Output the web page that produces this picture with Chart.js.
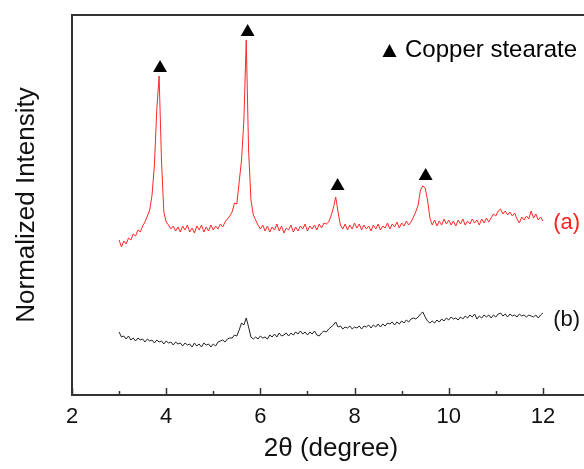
<!DOCTYPE html>
<html>
<head>
<meta charset="utf-8">
<script src="https://cdn.jsdelivr.net/npm/chart.js@4.4.1/dist/chart.umd.min.js"></script>
<style>
  html, body { margin: 0; padding: 0; background: #fff; overflow: hidden; }
  #wrap { width: 600px; height: 469px; }
</style>
</head>
<body>
<div id="wrap"><canvas id="xrd" width="600" height="469"></canvas></div>
<script>
// 2theta sampling grid of the scan (degrees)
const angleStart = 3.0;
const angleStep = 0.05;

// curve (a): red, with copper stearate peaks
const seriesA = [
  155,148,154,151,157,155,161,159,165,163,
  169,173,179,185,200,230,285,319,235,183,
  173,170,166,169,164,168,163,169,165,170,
  163,167,162,169,165,170,163,168,164,170,
  165,169,166,171,168,173,176,179,183,192,
  191,213,235,275,355,245,195,180,175,170,
  166,170,164,169,163,168,165,171,164,169,
  162,167,165,170,163,168,164,169,166,171,
  164,169,166,170,165,171,167,172,171,173,
  179,187,198,183,170,166,171,165,170,166,
  172,167,171,165,170,166,169,164,170,166,
  171,165,169,167,172,166,171,168,173,167,
  172,169,174,170,173,178,183,190,205,209,
  207,195,177,170,175,169,174,170,176,171,
  175,170,174,169,175,171,176,170,174,171,
  176,172,175,170,176,172,177,173,177,181,
  179,184,186,181,184,180,183,179,182,176,
  172,178,175,179,176,184,177,181,175,178,
  174
];

// curve (b): black
const seriesB = [
  63,58,59,56,59,55,57,54,57,55,
  56,53,56,54,55,52,55,53,54,51,
  54,52,53,50,53,51,52,49,52,50,
  51,48,52,49,51,48,52,50,51,48,
  51,49,53,54,55,53,56,57,57,60,
  59,65,72,70,77,68,58,56,58,56,
  59,57,58,56,60,58,61,58,62,59,
  60,62,59,62,60,63,61,64,61,63,
  60,63,61,64,60,59,62,64,63,66,
  68,70,73,68,69,66,68,67,69,66,
  68,67,69,66,69,68,70,67,70,68,
  71,68,71,69,72,71,73,70,73,71,
  74,72,75,73,76,77,76,78,81,83,
  78,74,72,74,72,75,73,76,74,77,
  75,78,76,77,75,78,76,79,77,80,
  78,81,76,79,77,80,78,80,77,80,
  78,81,82,79,81,78,81,79,80,78,
  81,79,80,78,80,79,78,80,77,80,
  82
];

// peak markers (triangles) above curve (a)
const peakAngles = [3.87, 5.73, 7.64, 9.51];
const peakMarks = [327, 363, 209, 219];

const xTicks = [2, 4, 6, 8, 10, 12];

function toPoints(vals) {
  return vals.map((v, i) => ({ x: +(angleStart + i * angleStep).toFixed(2), y: v }));
}

const FONT = "'Liberation Sans', Arial, sans-serif";

const decorations = {
  id: 'decorations',
  afterDraw(chart) {
    const ctx = chart.ctx;
    const area = chart.chartArea;
    const xs = chart.scales.x;
    const ys = chart.scales.y;
    ctx.save();
    // frame
    ctx.strokeStyle = '#333';
    ctx.lineWidth = 2;
    ctx.strokeRect(area.left, area.top, area.right - area.left, area.bottom - area.top);
    // inward ticks
    ctx.lineWidth = 1.5;
    xs.ticks.forEach(t => {
      const px = Math.round(xs.getPixelForValue(t.value)) + 0.5;
      const len = t.value % 2 === 0 ? 7 : 4;
      ctx.beginPath();
      ctx.moveTo(px, area.bottom);
      ctx.lineTo(px, area.bottom - len);
      ctx.stroke();
    });
    // curve labels
    ctx.font = '22px ' + FONT;
    ctx.textBaseline = 'middle';
    ctx.textAlign = 'left';
    ctx.fillStyle = '#ff2020';
    ctx.fillText('(a)', xs.getPixelForValue(12.22), ys.getPixelForValue(172));
    ctx.fillStyle = '#111';
    ctx.fillText('(b)', xs.getPixelForValue(12.22), ys.getPixelForValue(75));
    // legend
    ctx.fillStyle = '#000';
    ctx.beginPath();
    ctx.moveTo(389.5, 44);
    ctx.lineTo(396.5, 57);
    ctx.lineTo(382.5, 57);
    ctx.closePath();
    ctx.fill();
    ctx.font = '24px ' + FONT;
    ctx.textBaseline = 'alphabetic';
    ctx.fillText('Copper stearate', 405, 57);
    ctx.restore();
  }
};

new Chart(document.getElementById('xrd'), {
  type: 'line',
  data: {
    datasets: [
      {
        label: '(a)',
        data: toPoints(seriesA),
        borderColor: 'rgb(255,40,40)',
        borderWidth: 1,
        pointRadius: 0,
        tension: 0
      },
      {
        label: '(b)',
        data: toPoints(seriesB),
        borderColor: '#222',
        borderWidth: 1,
        pointRadius: 0,
        tension: 0
      },
      {
        label: 'Copper stearate',
        data: peakAngles.map((a, i) => ({ x: a, y: peakMarks[i] })),
        showLine: false,
        pointStyle: 'triangle',
        pointRadius: 8,
        pointBackgroundColor: '#000',
        pointBorderColor: '#000',
        pointBorderWidth: 0
      }
    ]
  },
  options: {
    responsive: false,
    devicePixelRatio: 1,
    animation: false,
    layout: { padding: { top: 15, right: 10, left: 0, bottom: 0 } },
    plugins: { legend: { display: false }, tooltip: { enabled: false } },
    scales: {
      x: {
        type: 'linear',
        min: 2,
        max: 13,
        grid: { display: false },
        border: { display: false },
        ticks: {
          stepSize: 1,
          autoSkip: false,
          maxRotation: 0,
          padding: 1,
          color: '#111',
          font: { family: FONT, size: 22 },
          callback: v => xTicks.includes(v) ? String(v) : ''
        },
        title: {
          display: true,
          text: '2θ (degree)',
          color: '#111',
          font: { family: FONT, size: 26 },
          padding: { top: 0, bottom: 5 }
        },
        afterFit(scale) { scale.height = 74; }
      },
      y: {
        min: 0,
        max: 380,
        grid: { display: false },
        border: { display: false },
        ticks: { display: false },
        title: {
          display: true,
          text: 'Normalized Intensity',
          color: '#111',
          font: { family: FONT, size: 26 },
          padding: { top: 11, bottom: 0 }
        },
        afterFit(scale) { scale.width = 72; }
      }
    }
  },
  plugins: [decorations]
});
</script>
</body>
</html>
